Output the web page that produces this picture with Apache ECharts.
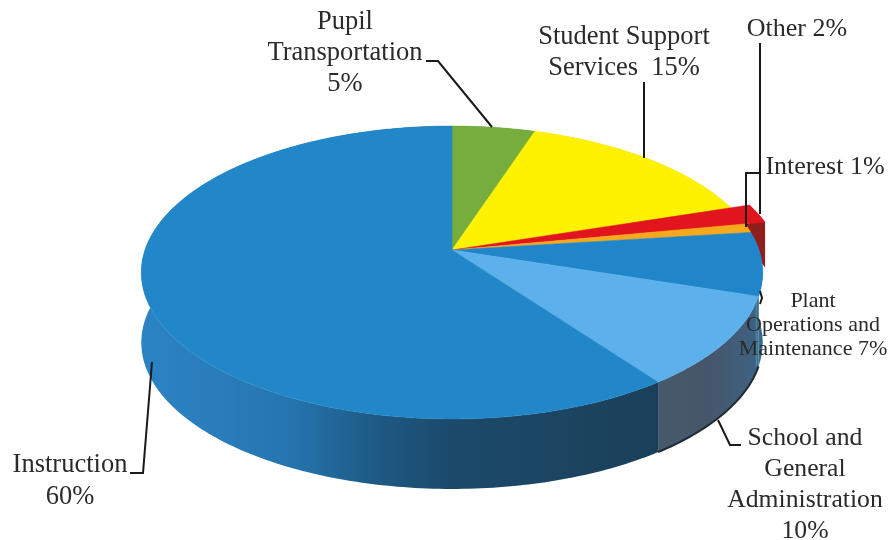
<!DOCTYPE html>
<html>
<head>
<meta charset="utf-8">
<style>html,body{margin:0;padding:0;background:#fff}#chart{width:891px;height:540px}</style>
<script src="https://cdn.jsdelivr.net/npm/echarts@6/dist/echarts.min.js"></script>
</head>
<body>
<div id="chart"></div>
<script>
// Share of expenditures by function, clockwise from twelve o'clock.
const categories = ['Pupil Transportation', 'Student Support Services', 'Other', 'Interest',
  'Plant Operations and Maintenance', 'School and General Administration', 'Instruction'];
const shares = [5, 15, 2, 1, 7, 10, 60];

const topColors = ['#76ad3c', '#fff200', '#e2151f', '#f6a91c', '#2086c9', '#5cb1ec', '#2187c8'];
const wallColors = ['#5b8a2c', '#c9bd00', '#8e1f1c', '#b9790f', '#35688f', null, null];

// Tilted disc: a circle seen in perspective, so the near half looks larger.
const APEX = [452, 250];
const SCALE_X = 307, SCALE_Y = 143, PERSPECTIVE = 0.1536, DEPTH = 70;
// The "Other" wedge stands proud of the rim.
const RIM_FACTOR = [1, 1, 1.07, 1, 1, 1, 1];
const WALL_DEPTH = [DEPTH, DEPTH, 45, DEPTH, DEPTH, DEPTH, DEPTH];

function project(theta, r, drop) {
  const x = r * Math.sin(theta), y = r * Math.cos(theta), d = 1 + PERSPECTIVE * y;
  return [APEX[0] + SCALE_X * x / d, APEX[1] - SCALE_Y * y / d + (drop || 0)];
}
function arc(a0, a1, r, drop) {
  const n = Math.max(2, Math.ceil(Math.abs(a1 - a0) * 60)), pts = [];
  for (let i = 0; i <= n; i++) pts.push(project(a0 + (a1 - a0) * i / n, r, drop));
  return pts;
}
function gradient(stops) {
  return new echarts.graphic.LinearGradient(0, 0, 1, 0,
    stops.map(s => ({ offset: s[0], color: s[1] })));
}

let running = 0;
const sliceData = shares.map((v, i) => {
  const row = [i, v, running];
  running += v;
  return row;
});
const TOTAL = running;

function angles(api) {
  const start = api.value(2) / TOTAL * Math.PI * 2;
  return [start, start + api.value(1) / TOTAL * Math.PI * 2];
}

function renderWall(params, api) {
  const i = api.value(0), [a0, a1] = angles(api), r = RIM_FACTOR[i], h = WALL_DEPTH[i];
  const outer = arc(a0, a1, r, 0);
  const lower = arc(a1, a0, r, h);
  const children = [];
  let fill = wallColors[i];
  if (i === 5) fill = gradient([[0, '#465a6c'], [0.5, '#46566a'], [1, '#3d6284']]);
  if (i === 6) fill = gradient([[0, '#2b83c3'], [0.15, '#2a7dbb'], [0.3, '#2473ad'], [0.45, '#1e5a85'], [0.6, '#1c4a6a'], [1, '#1b4059']]);
  if (i === 2) {
    // Cut face of the raised wedge
    children.push({ type: 'polygon', shape: { points: [project(a1, r, 0), project(a1, r, h), project(a1, 0.97, 0)] }, style: { fill } });
  }
  children.unshift({ type: 'polygon', shape: { points: outer.concat(lower) }, style: { fill } });
  if (i === 5) {
    children.push({ type: 'polyline', shape: { points: arc(a0, a1, r, h) }, style: { stroke: '#1f2a33', lineWidth: 2, fill: null } });
    children.push({ type: 'line', shape: { x1: outer[0][0] - 2, y1: outer[0][1], x2: project(a0, r, h)[0] - 2, y2: project(a0, r, h)[1] }, style: { stroke: '#3f8c9e', lineWidth: 1.5 } });
  }
  return { type: 'group', children };
}

function renderTop(params, api) {
  const i = api.value(0), [a0, a1] = angles(api);
  return {
    type: 'polygon',
    shape: { points: [APEX].concat(arc(a0, a1, RIM_FACTOR[i], 0)) },
    style: { fill: topColors[i], stroke: topColors[i], lineWidth: 0.5 }
  };
}

// Callout captions, one entry per line block
const labelLines = [
  { x: 345, y: 22, size: 26.5, lines: ['Pupil', 'Transportation', '5%'], lh: 31 },
  { x: 624, y: 37, size: 26.5, lines: ['Student Support', 'Services  15%'], lh: 31 },
  { x: 797, y: 29, size: 26, lines: ['Other 2%'], lh: 31 },
  { x: 825, y: 167, size: 26, lines: ['Interest 1%'], lh: 31 },
  { x: 813, y: 301, size: 22, lines: ['Plant', 'Operations and', 'Maintenance 7%'], lh: 24 },
  { x: 805, y: 438, size: 25.7, lines: ['School and', 'General', 'Administration', '10%'], lh: 31 },
  { x: 70, y: 465, size: 26.5, lines: ['Instruction', '60%'], lh: 32 }
];

// Leader lines from captions to the disc
const leaders = [
  [[426, 61], [438, 61], [492, 127]],
  [[644, 82], [644, 158]],
  [[760, 43], [760, 214]],
  [[760, 173], [746, 173], [746, 227]],
  [[760, 291], [762, 298], [760, 304]],
  [[718, 420], [730, 445], [741, 445]],
  [[130, 473], [143, 473], [152, 362]]
];

const graphics = [];
leaders.forEach(points => graphics.push({
  type: 'polyline', z: 10, shape: { points },
  style: { stroke: '#1a1a1a', lineWidth: 2, fill: null }
}));
labelLines.forEach(block => block.lines.forEach((text, k) => graphics.push({
  type: 'text', z: 11,
  style: {
    text, x: block.x, y: block.y + k * block.lh,
    textAlign: 'center', textVerticalAlign: 'middle',
    fontFamily: '"Liberation Serif", serif', fontSize: block.size, fill: '#2a2a2a'
  }
})));

const chart = echarts.init(document.getElementById('chart'), null, { renderer: 'canvas' });
chart.setOption({
  animation: false,
  backgroundColor: '#ffffff',
  graphic: { elements: graphics },
  series: [
    { type: 'custom', name: 'Walls', coordinateSystem: 'none', renderItem: renderWall, data: sliceData, z: 1, silent: true },
    { type: 'custom', name: 'Expenditures', coordinateSystem: 'none', renderItem: renderTop, data: sliceData, z: 2, silent: true }
  ]
});
</script>
</body>
</html>
